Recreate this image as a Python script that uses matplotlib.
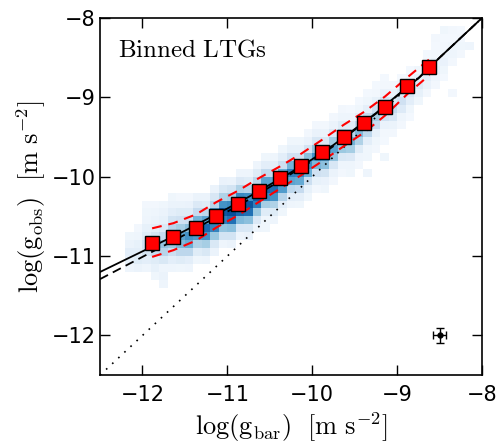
import numpy as np
import matplotlib
matplotlib.use("Agg")
import matplotlib.pyplot as plt

plt.rcParams['mathtext.fontset'] = 'cm'
plt.rcParams['font.family'] = ['DejaVu Sans']

# binned points (red squares)
bin_x = [-11.886, -11.635, -11.37, -11.13, -10.88, -10.632, -10.38,
         -10.133, -9.886, -9.631, -9.385, -9.141, -8.878, -8.62]
bin_y = [-10.83, -10.755, -10.645, -10.49, -10.34, -10.18, -10.02,
         -9.862, -9.686, -9.497, -9.32, -9.118, -8.857, -8.62]
band_hi = [-10.65, -10.585, -10.475, -10.32, -10.18, -10.02, -9.87,
           -9.712, -9.536, -9.347, -9.18, -8.988, -8.747, -8.52]
band_lo = [-11.01, -10.925, -10.805, -10.64, -10.49, -10.32, -10.15,
           -9.982, -9.806, -9.617, -9.44, -9.228, -8.957, -8.72]

# fit curves
line_x = [-12.5, -12.25, -12.0, -11.75, -11.5, -11.25, -11.0, -10.75, -10.5, -10.25,
          -10.0, -9.75, -9.5, -9.25, -9.0, -8.75, -8.5, -8.25, -8.0]
solid_y = [-11.20, -11.07, -10.94, -10.81, -10.68, -10.54, -10.40, -10.255, -10.10, -9.945,
           -9.78, -9.60, -9.40, -9.20, -8.975, -8.76, -8.50, -8.25, -8.00]
dashed_y = [-11.29, -11.15, -11.01, -10.87, -10.73, -10.58, -10.44, -10.29, -10.13, -9.965,
            -9.80, -9.615, -9.41, -9.205, -8.98, -8.76, -8.50, -8.25, -8.00]
unity = [-12.5, -8.0]

# typical error bar
err_x, err_y = -8.5, -12.0
err_dx, err_dy = 0.08, 0.10

# 2D histogram of individual points: column left edge, lowest row, densities upward
hist_x = [-12.2, -12.1, -12.0, -11.9, -11.8, -11.7, -11.6, -11.5, -11.4, -11.3, -11.2,
          -11.1, -11.0, -10.9, -10.8, -10.7, -10.6, -10.5, -10.4, -10.3, -10.2, -10.1,
          -10.0, -9.9, -9.8, -9.7, -9.6, -9.5, -9.4, -9.3, -9.2, -9.1, -9.0, -8.9,
          -8.8, -8.7, -8.6, -8.5, -8.4, -8.3]
hist_ybot = [-11.4, -11.4, -11.3, -11.3, -11.3, -11.2, -11.2, -11.2, -11.1, -11.1, -11.0,
             -10.9, -10.9, -10.8, -10.8, -10.7, -10.6, -10.6, -10.5, -10.4, -10.4, -10.3,
             -10.2, -10.2, -10.1, -10.0, -10.0, -9.9, -9.8, -9.7, -9.6, -9.6, -9.5, -9.4,
             -9.3, -9.2, -9.1, -9.0, -8.9, -8.8]
hist_vals = [
    [0, 0, 0.05, 0.08, 0.10, 0.06, 0.04, 0, 0],
    [0, 0, 0.06, 0.12, 0.10, 0.08, 0.05, 0.03, 0],
    [0, 0.05, 0.10, 0.18, 0.20, 0.12, 0.08, 0.05, 0.04, 0.03],
    [0.04, 0.08, 0.12, 0.25, 0.32, 0.18, 0.10, 0.06, 0.05, 0.03],
    [0.06, 0.05, 0.15, 0.30, 0.40, 0.25, 0.14, 0.08, 0.06, 0.04],
    [0.05, 0.10, 0.22, 0.38, 0.48, 0.30, 0.18, 0.10, 0.06, 0.04],
    [0.04, 0.12, 0.28, 0.45, 0.55, 0.35, 0.20, 0.12, 0.06, 0.03],
    [0.05, 0.10, 0.28, 0.50, 0.62, 0.42, 0.22, 0.12, 0.07, 0.03],
    [0.04, 0.12, 0.32, 0.58, 0.70, 0.48, 0.25, 0.14, 0.06],
    [0.05, 0.15, 0.35, 0.62, 0.78, 0.55, 0.28, 0.12, 0.06],
    [0.06, 0.15, 0.38, 0.68, 0.82, 0.60, 0.30, 0.16, 0.06],
    [0.05, 0.18, 0.40, 0.70, 0.85, 0.62, 0.32, 0.15, 0.07],
    [0.06, 0.18, 0.42, 0.75, 0.88, 0.65, 0.35, 0.18, 0.06],
    [0.05, 0.16, 0.45, 0.78, 0.90, 0.66, 0.32, 0.14, 0.05],
    [0.06, 0.15, 0.42, 0.75, 0.86, 0.64, 0.30, 0.12, 0.05],
    [0.05, 0.14, 0.38, 0.70, 0.82, 0.60, 0.28, 0.12, 0.05],
    [0.04, 0.12, 0.35, 0.66, 0.80, 0.55, 0.26, 0.10, 0.04],
    [0.05, 0.12, 0.32, 0.62, 0.76, 0.52, 0.25, 0.10, 0.05],
    [0.04, 0.10, 0.30, 0.58, 0.72, 0.50, 0.22, 0.10, 0.04],
    [0.05, 0.10, 0.28, 0.55, 0.70, 0.48, 0.20, 0.08, 0.04],
    [0.04, 0.09, 0.25, 0.52, 0.68, 0.45, 0.20, 0.08, 0.04],
    [0.04, 0.08, 0.22, 0.50, 0.64, 0.42, 0.18, 0.07, 0.03],
    [0.03, 0.08, 0.20, 0.46, 0.62, 0.40, 0.16, 0.07, 0.03],
    [0.04, 0.07, 0.18, 0.42, 0.58, 0.38, 0.15, 0.06, 0.03],
    [0.03, 0.06, 0.16, 0.40, 0.55, 0.35, 0.14, 0.06, 0.03],
    [0.03, 0.05, 0.15, 0.38, 0.52, 0.32, 0.12, 0.05, 0.03],
    [0.04, 0.05, 0.14, 0.35, 0.48, 0.30, 0.12, 0.05, 0.02],
    [0.03, 0.05, 0.12, 0.32, 0.45, 0.28, 0.10, 0.04, 0.02],
    [0.04, 0.04, 0.10, 0.28, 0.40, 0.25, 0.09, 0.04, 0.02],
    [0.03, 0.04, 0.08, 0.24, 0.35, 0.22, 0.08, 0.03, 0.02],
    [0.02, 0.03, 0.07, 0.20, 0.30, 0.18, 0.07, 0.03, 0.02],
    [0, 0.03, 0.06, 0.16, 0.25, 0.15, 0.06, 0.03, 0],
    [0, 0.03, 0.05, 0.13, 0.20, 0.12, 0.05, 0.02, 0],
    [0, 0.02, 0.04, 0.10, 0.16, 0.10, 0.04, 0.02, 0],
    [0, 0, 0.04, 0.08, 0.13, 0.08, 0.04, 0, 0],
    [0, 0, 0.03, 0.07, 0.10, 0.07, 0.03, 0.02, 0],
    [0, 0, 0.03, 0.05, 0.08, 0.06, 0.03, 0.02, 0.03],
    [0, 0, 0.02, 0.04, 0.07, 0.05, 0.03, 0.02, 0.04],
    [0, 0, 0, 0.03, 0.05, 0.04, 0.02, 0.03, 0],
    [0, 0, 0, 0.03, 0.04, 0.03, 0.02, 0, 0],
]
# isolated cells away from the band
lone_x = [-11.8, -9.4, -9.2, -8.2, -8.4, -10.6]
lone_y = [-11.4, -10.0, -9.8, -8.4, -9.0, -10.7]
lone_v = [0.05, 0.05, 0.04, 0.05, 0.03, 0.04]

# build grid
step = 0.1
xedges = np.round(np.arange(-12.2, -8.1 + step / 2, step), 2)
yedges = np.round(np.arange(-11.6, -8.0 + step / 2, step), 2)
grid = np.zeros((len(yedges) - 1, len(xedges) - 1))
for xl, yb, vals in zip(hist_x, hist_ybot, hist_vals):
    i = int(round((xl - xedges[0]) / step))
    j0 = int(round((yb - yedges[0]) / step))
    for k, v in enumerate(vals):
        if 0 <= j0 + k < grid.shape[0]:
            grid[j0 + k, i] = v
for xl, yb, v in zip(lone_x, lone_y, lone_v):
    grid[int(round((yb - yedges[0]) / step)), int(round((xl - xedges[0]) / step))] = v
grid = np.ma.masked_where(grid <= 0, grid)

fig = plt.figure(figsize=(5.0, 4.44), dpi=100)
ax = fig.add_axes([0.2, 0.155, 0.764, 0.8045])

ax.pcolormesh(xedges, yedges, grid, cmap='Blues', vmin=0, vmax=1, zorder=1)

ax.plot(unity, unity, color='k', lw=1.2, linestyle=(0, (1, 4)), zorder=2)
ax.plot(line_x, dashed_y, color='k', lw=1.3, linestyle=(0, (5, 3)), zorder=3)
ax.plot(line_x, solid_y, color='k', lw=1.3, zorder=3)
ax.plot(bin_x, band_hi, color='red', lw=1.5, linestyle=(0, (4.7, 3.3)), zorder=4)
ax.plot(bin_x, band_lo, color='red', lw=1.5, linestyle=(0, (4.7, 3.3)), zorder=4)
ax.plot(bin_x, bin_y, linestyle='none', marker='s', ms=10, mfc='red',
        mec='k', mew=1.0, zorder=5)

ax.errorbar([err_x], [err_y], xerr=[err_dx], yerr=[err_dy], fmt='o', color='k',
            ms=3.5, elinewidth=1, capsize=3, capthick=1, zorder=5)

ax.text(0.047, 0.891, r'$\mathrm{Binned\ LTGs}$', transform=ax.transAxes,
        fontsize=18, va='baseline', ha='left')

ax.set_xlim(-12.5, -8)
ax.set_ylim(-12.5, -8)
ax.set_xticks([-12, -11, -10, -9, -8])
ax.set_yticks([-12, -11, -10, -9, -8])
ax.tick_params(direction='in', top=True, right=True, length=7, width=1,
               labelsize=15)
ax.tick_params(axis='x', pad=7)
ax.tick_params(axis='y', pad=3)
for s in ax.spines.values():
    s.set_linewidth(1.2)

ax.set_xlabel(r'$\log(\rm g_{bar})\ \ [\rm m\ s^{-2}]$', fontsize=19, labelpad=4)
ax.set_ylabel(r'$\log(\rm g_{obs})\ \ [\rm m\ s^{-2}]$', fontsize=19, labelpad=3)

fig.savefig('out.png', dpi=100)
